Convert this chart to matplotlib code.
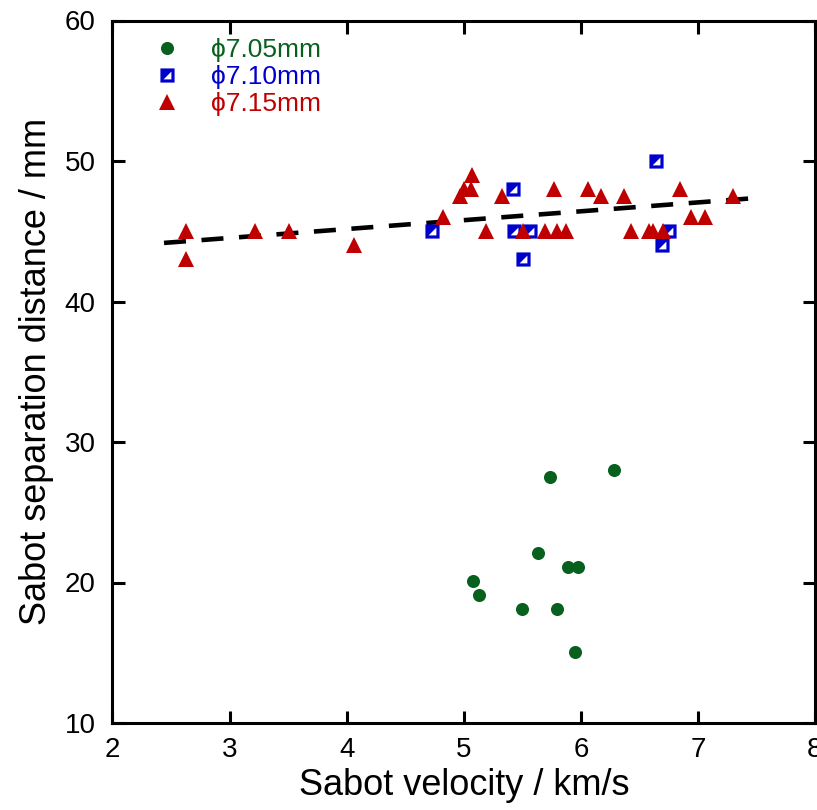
import matplotlib
matplotlib.use("Agg")
import matplotlib.pyplot as plt
import numpy as np
from matplotlib.path import Path
from matplotlib.markers import MarkerStyle

# ---- data ----
green_x = [5.74, 6.28, 5.63, 5.89, 5.98, 5.08, 5.13, 5.50, 5.80, 5.95]
green_y = [27.5, 28.0, 22.1, 21.1, 21.1, 20.1, 19.1, 18.1, 18.1, 15.05]

blue_x = [6.64, 5.42, 4.73, 5.43, 5.57, 5.51, 6.75, 6.69]
blue_y = [50.0, 48.0, 45.0, 45.0, 45.0, 43.0, 45.0, 44.0]

red_x = [2.63, 2.63, 3.22, 3.51, 4.06, 4.82, 4.97, 5.00, 5.06, 5.07, 5.19, 5.33,
         5.51, 5.69, 5.77, 5.80, 5.87, 6.06, 6.17, 6.37, 6.43, 6.58, 6.62, 6.70,
         6.85, 6.94, 7.06, 7.30]
red_y = [45.0, 43.0, 45.0, 45.0, 44.0, 46.0, 47.5, 48.0, 48.0, 49.0, 45.0, 47.5,
         45.0, 45.0, 48.0, 45.0, 45.0, 48.0, 47.5, 47.5, 45.0, 45.0, 45.0, 45.0,
         48.0, 46.0, 46.0, 47.5]

fit_x = [2.44, 7.50]
fit_slope = 0.632
fit_intercept = 44.17 - 0.632 * 2.44

labels = ["\u03d57.05mm", "\u03d57.10mm", "\u03d57.15mm"]
xticks = [2, 3, 4, 5, 6, 7, 8]
yticks = [10, 20, 30, 40, 50, 60]

c_green = "#08601f"
c_blue = "#0000cc"
c_red = "#c00000"

plt.rcParams['font.family'] = ['Liberation Sans', 'DejaVu Sans']

fig = plt.figure(figsize=(8.17, 8.10), dpi=100)
ax = fig.add_axes([112.5 / 817, 1 - 723 / 810, (815 - 112.5) / 817, (723 - 20.5) / 810])

# fit line
fx = np.array(fit_x)
ax.plot(fx, fit_intercept + fit_slope * fx, color="black", lw=3.3,
        dashes=(4.8, 3.4), zorder=2, dash_capstyle="butt")

# blue square marker: blue square with white lower-right inner triangle (hole)
a = 0.55
sq_verts = [(-1, -1), (1, -1), (1, 1), (-1, 1), (-1, -1),
            (-a, -a), (a, a), (a, -a), (-a, -a)]
sq_codes = [Path.MOVETO, Path.LINETO, Path.LINETO, Path.LINETO, Path.CLOSEPOLY,
            Path.MOVETO, Path.LINETO, Path.LINETO, Path.CLOSEPOLY]
blue_marker = MarkerStyle(Path(sq_verts, sq_codes))

ax.plot(green_x, green_y, ls="none", marker="o", ms=9.4,
        mfc=c_green, mec=c_green, mew=0, zorder=3, label=labels[0])
ax.plot(blue_x, blue_y, ls="none", marker=blue_marker, ms=10.2,
        mfc=c_blue, mec=c_blue, mew=0, zorder=3, label=labels[1])
ax.plot(red_x, red_y, ls="none", marker="^", ms=11.0,
        mfc=c_red, mec=c_red, mew=0, zorder=4, label=labels[2])

ax.set_xlim(2, 8)
ax.set_ylim(10, 60)
ax.set_xticks(xticks)
ax.set_yticks(yticks)
ax.tick_params(direction="in", length=9, width=2.2, top=True, right=True,
               labelsize=20, pad=10)
ax.tick_params(axis="y", pad=12)
for s in ax.spines.values():
    s.set_linewidth(2.2)

ax.set_xlabel("Sabot velocity / km/s", fontsize=26, labelpad=4)
ax.set_ylabel("Sabot separation distance / mm", fontsize=26, labelpad=8)

leg = ax.legend(loc="upper left", bbox_to_anchor=(0.042, 0.99), frameon=False,
                fontsize=19, handlelength=1.1, handletextpad=1.1,
                labelspacing=0.11, borderaxespad=0)
for t, c in zip(leg.get_texts(), [c_green, c_blue, c_red]):
    t.set_color(c)

fig.savefig("out.png", dpi=100)
